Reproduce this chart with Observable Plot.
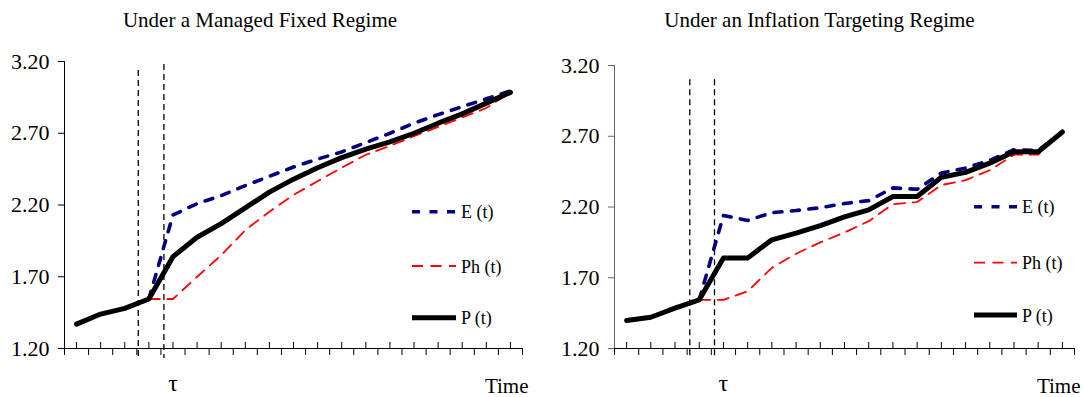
<!DOCTYPE html>
<html>
<head>
<meta charset="utf-8">
<script src="https://cdn.jsdelivr.net/npm/d3@7"></script>
<script src="https://cdn.jsdelivr.net/npm/@observablehq/plot@0.6"></script>
<style>
  html, body { margin: 0; padding: 0; background: #fff; }
  #wrap { display: flex; width: 1083px; height: 397px; overflow: hidden; }
  #wrap svg { display: block; flex: none; }
</style>
</head>
<body>
<div id="wrap"></div>
<script>
// ---- data ----
const periods = [1, 3, 5, 7, 9, 11, 13, 15, 17, 19, 21, 23, 25, 27, 29, 31, 33, 35, 37];
const yTicks = [1.2, 1.7, 2.2, 2.7, 3.2];
const legendLabels = ["E (t)", "Ph (t)", "P (t)"];
const titles = ["Under a Managed Fixed Regime", "Under an Inflation Targeting Regime"];
const tauLabel = [{t: 9, label: "τ"}];

// Managed fixed regime
const fixedP  = [1.37, 1.44, 1.48, 1.545, 1.84, 1.975, 2.07, 2.18, 2.29, 2.38, 2.46, 2.53, 2.59, 2.64, 2.70, 2.77, 2.835, 2.91, 2.985];
const fixedE  = [null, null, null, 1.545, 2.13, 2.21, 2.265, 2.335, 2.40, 2.465, 2.52, 2.57, 2.635, 2.70, 2.77, 2.83, 2.885, 2.94, 2.995];
const fixedPh = [null, null, null, 1.545, 1.545, 1.70, 1.85, 2.025, 2.153, 2.27, 2.366, 2.46, 2.55, 2.612, 2.68, 2.744, 2.81, 2.876, 2.985];
const fixedTau = [{t: 6.12, top: 3.137, bottom: 1.13}, {t: 8.25, top: 3.179, bottom: 1.13}];

// Inflation targeting regime
const itP  = [1.398, 1.421, 1.485, 1.544, 1.84, 1.84, 1.968, 2.015, 2.068, 2.13, 2.18, 2.274, 2.274, 2.41, 2.445, 2.51, 2.59, 2.59, 2.73];
const itE  = [null, null, null, 1.544, 2.14, 2.105, 2.16, 2.175, 2.195, 2.225, 2.245, 2.335, 2.325, 2.44, 2.475, 2.53, 2.605, 2.60, 2.73];
const itPh = [null, null, null, 1.544, 1.544, 1.605, 1.77, 1.87, 1.95, 2.02, 2.10, 2.22, 2.235, 2.355, 2.39, 2.46, 2.57, 2.57, 2.73];
const itTau = [{t: 6.22, top: 3.099, bottom: 1.129}, {t: 8.26, top: 3.099, bottom: 1.129}];

const upTicks = d3.range(1, 38, 2);
const downTicks = d3.range(0, 39, 2);

const FONT = "'Liberation Serif', 'Times New Roman', serif";

function rows(vals) {
  return periods.map((t, i) => ({t, v: vals[i]})).filter(d => d.v != null);
}

function makeChart(cfg) {
  const H = 397, MB = 49;
  const plotH = H - cfg.marginTop - MB;
  const svg = Plot.plot({
    width: cfg.width,
    height: H,
    marginLeft: cfg.marginLeft,
    marginRight: cfg.marginRight,
    marginTop: cfg.marginTop,
    marginBottom: MB,
    x: {domain: [0, 38], axis: null},
    y: {domain: [1.2, 3.2], axis: null},
    style: {fontFamily: FONT, fontSize: "21px", color: "#000", background: "#fff", overflow: "visible"},
    marks: [
      // axes lines
      Plot.ruleX([0], {stroke: cfg.yAxisColor, strokeWidth: 1}),
      Plot.ruleY([1.2], {stroke: "#000", strokeWidth: 1}),
      // x ticks
      Plot.ruleX(upTicks, {x: d => d, insetTop: plotH - 6, stroke: "#000", strokeWidth: 1}),
      Plot.ruleX(downTicks, {x: d => d, insetTop: plotH, insetBottom: -7, stroke: "#000", strokeWidth: 1}),
      // y axis
      Plot.axisY(yTicks, {tickSize: 6, tickPadding: 9, tickFormat: d3.format(".2f"), stroke: cfg.yAxisColor, fill: "#000", fontSize: 22}),
      // tau lines
      Plot.ruleX(cfg.tau, {x: "t", y1: "top", y2: "bottom", stroke: "#000", strokeWidth: 1.3, strokeDasharray: "6,4"}),
      // series
      Plot.line(rows(cfg.Ph), {x: "t", y: "v", stroke: "#ff0000", strokeWidth: 1.8, strokeDasharray: "11,7.5", strokeLinejoin: "round"}),
      Plot.line(rows(cfg.E), {x: "t", y: "v", stroke: "#000080", strokeWidth: 3.6, strokeDasharray: "8,9.5", strokeLinejoin: "round"}),
      Plot.line(rows(cfg.P), {x: "t", y: "v", stroke: "#000", strokeWidth: 5, strokeLinejoin: "round", strokeLinecap: "round"}),
      // labels
      Plot.text([cfg.title], {frameAnchor: "top", dx: cfg.titleDx, dy: cfg.titleDy, lineAnchor: "bottom", fill: "#000", fontSize: 21}),
      Plot.text(["Time"], {frameAnchor: "bottom-right", textAnchor: "end", dx: 6, dy: cfg.timeDy, lineAnchor: "bottom", fill: "#000", fontSize: 21}),
      Plot.text(tauLabel, {x: "t", text: "label", frameAnchor: "bottom", dy: 42, lineAnchor: "bottom", fill: "#000", fontSize: 24})
    ]
  });

  // legend
  const styles = [
    {stroke: "#000080", w: 3.6, dash: "8,9.5"},
    {stroke: "#ff0000", w: 1.8, dash: "11,7.5"},
    {stroke: "#000", w: 5, dash: null}
  ];
  const g = d3.select(svg).append("g").attr("class", "legend");
  legendLabels.forEach((lab, i) => {
    const y = cfg.legend.ys[i];
    g.append("line")
      .attr("x1", cfg.legend.x1).attr("x2", cfg.legend.x2)
      .attr("y1", y).attr("y2", y)
      .attr("stroke", styles[i].stroke)
      .attr("stroke-width", styles[i].w)
      .attr("stroke-dasharray", styles[i].dash);
    g.append("text")
      .attr("x", cfg.legend.tx).attr("y", y + 6.5)
      .attr("text-anchor", "start")
      .attr("font-family", FONT)
      .style("font-size", "18px")
      .attr("fill", "#000")
      .text(lab);
  });
  return svg;
}

const wrap = document.getElementById("wrap");
wrap.appendChild(makeChart({
  width: 541, marginLeft: 64, marginRight: 19, marginTop: 61,
  P: fixedP, E: fixedE, Ph: fixedPh, tau: fixedTau,
  title: titles[0], titleDx: -33.5, titleDy: -35, timeDy: 44,
  yAxisColor: "#000",
  legend: {x1: 412, x2: 456, tx: 461, ys: [211.7, 266, 317.7]}
}));
wrap.appendChild(makeChart({
  width: 542, marginLeft: 73, marginRight: 9, marginTop: 65,
  P: itP, E: itE, Ph: itPh, tau: itTau,
  title: titles[1], titleDx: -25, titleDy: -39, timeDy: 44,
  yAxisColor: "#666",
  legend: {x1: 433, x2: 476, tx: 481, ys: [206.7, 262.7, 315]}
}));
</script>
</body>
</html>
